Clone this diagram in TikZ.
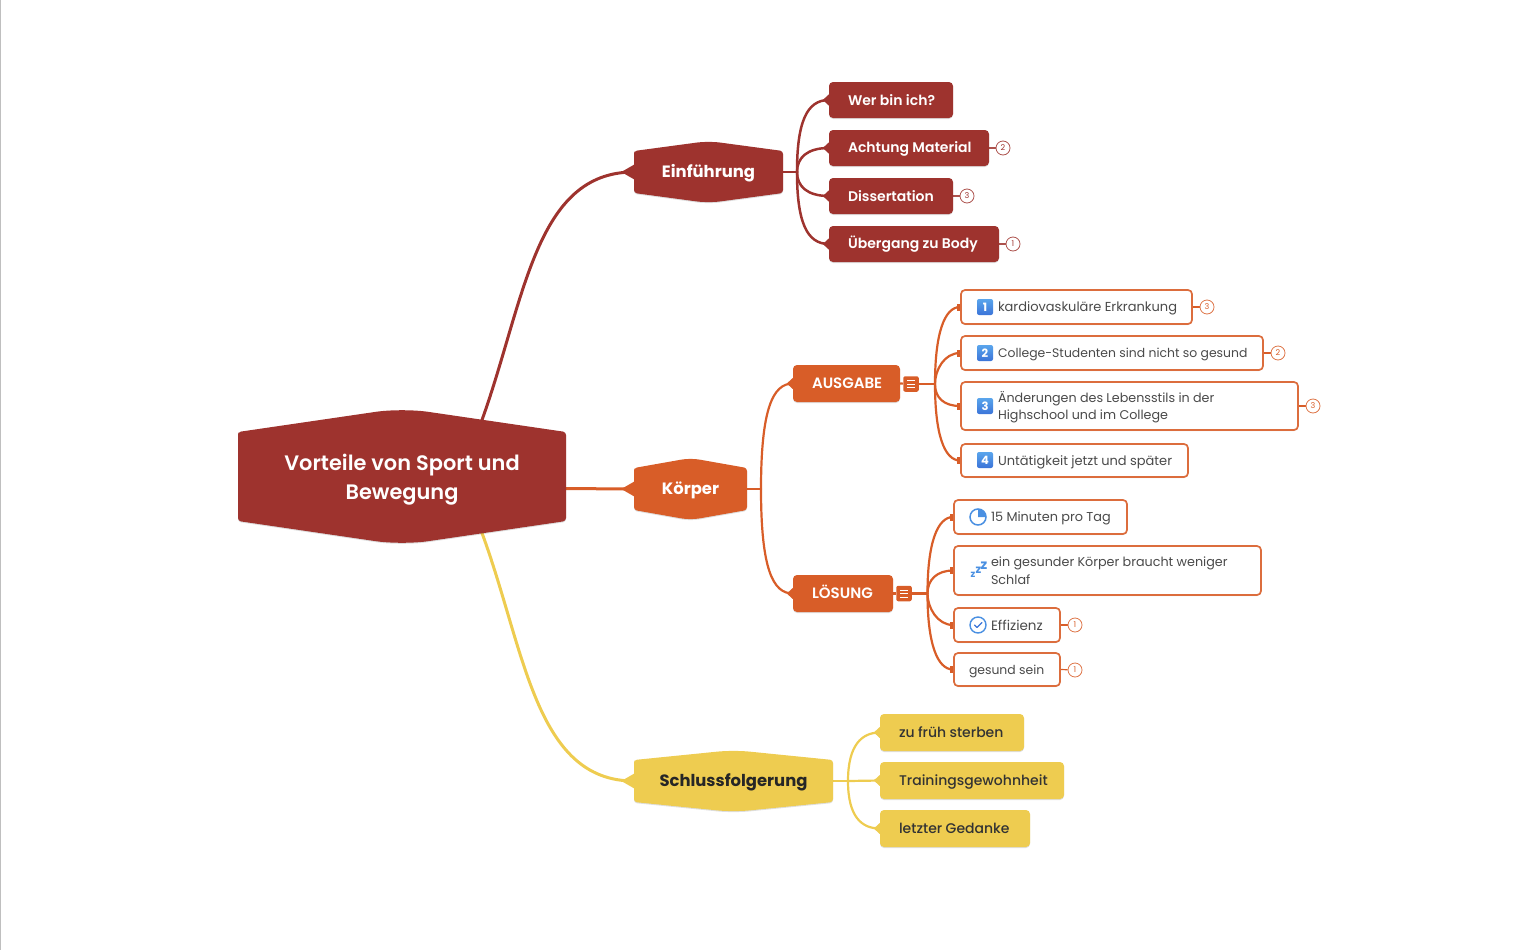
\documentclass[tikz,border=0pt]{standalone}
\usepackage{fontspec}
\setmainfont{Poppins}
\newfontfamily\medfont{Poppins Medium}
\newfontfamily\semifont{Poppins SemiBold}
\usetikzlibrary{backgrounds,shadows,calc}
\definecolor{mred}{HTML}{9E332E}
\definecolor{morange}{HTML}{D85D28}
\definecolor{myellow}{HTML}{EECC50}
\definecolor{mtext}{HTML}{4A4A4A}
\definecolor{micon}{HTML}{4A90E2}
\definecolor{micona}{HTML}{5AA5EC}
\definecolor{miconb}{HTML}{3B74D8}
\tikzset{
  softshadow/.style={drop shadow={shadow xshift=0pt,shadow yshift=-1pt,opacity=.13,fill=black}},
  conn/.style={line width=3pt,line cap=round},
  subconn/.style={line width=2.2pt,line cap=round},
  cardbox/.style={rectangle,rounded corners=4pt,inner sep=0pt,softshadow},
  redcard/.style={cardbox,fill=mred,text=white},
  orangecard/.style={cardbox,fill=morange,text=white},
  yellowcard/.style={cardbox,fill=myellow,text=black!80},
  whitecard/.style={cardbox,fill=white,draw=morange!90,line width=1.7pt,text=mtext},
  badge/.style={circle,draw=#1!85,fill=white,line width=.8pt,text=#1,inner sep=0pt,minimum size=14pt,font=\fontsize{8}{8}\selectfont},
  numicon/.style={rectangle,rounded corners=2pt,minimum size=16pt,inner sep=0pt,top color=micona,bottom color=miconb,text=white,font=\fontsize{11.5}{11.5}\bfseries\selectfont},
  foldicon/.style={rectangle,rounded corners=2pt,minimum size=15.5pt,inner sep=0pt,fill=morange},
}
\newcommand{\mmstrut}{\rule[-2.8pt]{0pt}{16pt}}
% name, style, x0, y0, x1, y1, left pad, font size, text
\newcommand{\mmcard}[9]{%
  \pgfmathsetmacro{\mw}{#5-#3}\pgfmathsetmacro{\mh}{#6-#4}%
  \pgfmathsetmacro{\mt}{#5-#3-#7}%
  \node[#2,minimum width=\mw pt,minimum height=\mh pt,text width=\mw pt,align=left] (#1) at ({(#3+#5)/2},{(#4+#6)/2})
   {\hspace*{#7pt}\parbox[c]{\mt pt}{\raggedright\fontsize{#8}{16}\selectfont\mmstrut #9\mmstrut}};%
}
% tip: base on the west side of a node, apex to the left
\newcommand{\mmtip}[2]{\fill[#2] (#1.west) ++(0.5,-6) -- ++(-6.5,6) -- ++(6.5,6) -- cycle;}
\newcommand{\mmtipb}[2]{\fill[#2] (#1.west) ++(0.5,-7.5) -- ++(-13,7.5) -- ++(13,7.5) -- cycle;}
\newcommand{\mmtab}[2]{\fill[#2] (#1.west) ++(-3,-3.5) rectangle ++(3.5,7);}
% name,colour,x0,x1,apex top,corner top,corner bottom,apex bottom,text
\newcommand{\mmhex}[9]{%
  \pgfmathsetmacro{\mr}{(#4-#3)*0.08}%
  \fill[#2,softshadow] (#3,{#6+3}) [rounded corners=3pt] -- (#3,#6) [rounded corners=\mr pt] -- ({(#3+#4)/2},#5) [rounded corners=3pt] -- (#4,#6) -- (#4,#7) [rounded corners=\mr pt] -- ({(#3+#4)/2},#8) [rounded corners=3pt] -- (#3,#7) -- cycle;%
  \node[inner sep=0pt,minimum width=#4 pt-#3 pt,minimum height=#7 pt-#6 pt,align=center] (#1) at ({(#3+#4)/2},{(#6+#7)/2}) {#9};%
}
\newcommand{\foldlines}[1]{\draw[white,line width=.8pt] ($(#1)+(-4,-3.5)$) -- +(8,0) ($(#1)+(-4,0)$) -- +(8,0) ($(#1)+(-4,3.5)$) -- +(8,0);}
\newcommand{\rootfont}{\color{white}\semifont\fontsize{20.9}{27}\selectfont\rule[-4.9pt]{0pt}{27pt}}
\newcommand{\hexfont}{\bfseries\fontsize{16.4}{20}\selectfont\rule[-4pt]{0pt}{20pt}}
\begin{document}
\begin{tikzpicture}[x=1pt,y=-1pt]
\useasboundingbox (0,0) rectangle (1536,950);
\draw[black!25,line width=1pt] (0.5,0) -- (0.5,950);

% hexagons
\mmhex{root}{mred}{238}{566}{408}{432}{521}{545}{\rootfont Vorteile von Sport und\\\rootfont Bewegung}
\mmhex{ein}{mred}{634}{783}{141}{151}{193}{203}{\color{white}\hexfont Einführung}
\mmhex{koe}{morange}{634}{747}{458}{468}{510}{520}{\color{white}\hexfont Körper}
\mmhex{sch}{myellow}{634}{833}{750}{760}{802}{812}{\color{black!85}\hexfont Schlussfolgerung}

% Einführung children
\mmcard{wer}{redcard}{829}{82}{953}{118}{19}{14}{\semifont Wer bin ich?}
\mmcard{ach}{redcard}{829}{130}{989}{166}{19}{14}{\semifont Achtung Material}
\mmcard{dis}{redcard}{829}{178}{953}{214}{19}{14}{\semifont Dissertation}
\mmcard{ueb}{redcard}{829}{226}{999}{262}{19}{14}{\semifont Übergang zu Body}
\node[badge=mred] (bach) at (1003,148) {2};
\node[badge=mred] (bdis) at (967,196) {3};
\node[badge=mred] (bueb) at (1013,244) {1};

% Körper sub topics
\mmcard{aus}{orangecard}{793}{365}{900}{402}{19}{15}{\semifont AUSGABE}
\mmcard{loe}{orangecard}{793}{575}{893}{612}{19}{15}{\semifont LÖSUNG}
\node[foldicon] (faus) at (911,384) {};
\node[foldicon] (floe) at (904,593.5) {};
\foldlines{faus}
\foldlines{floe}

% AUSGABE children
\mmcard{ka}{whitecard}{961}{290}{1192}{324}{37}{13}{kardiovaskuläre Erkrankung}
\mmcard{co}{whitecard}{961}{336}{1263}{370}{37}{12.4}{College-Studenten sind nicht so gesund}
\mmcard{ae}{whitecard}{961}{382}{1298}{430}{37}{12.7}{Änderungen des Lebensstils in der\\Highschool und im College}
\mmcard{un}{whitecard}{961}{444}{1188}{477}{37}{13}{Untätigkeit jetzt und später}
\node[numicon] (n1) at (985,307) {1};
\node[numicon] (n2) at (985,353) {2};
\node[numicon] (n3) at (985,406) {3};
\node[numicon] (n4) at (985,460) {4};
\node[badge=morange] (bka) at (1207,307) {3};
\node[badge=morange] (bco) at (1278,353) {2};
\node[badge=morange] (bae) at (1313,406) {3};

% LÖSUNG children
\mmcard{mi}{whitecard}{954}{500}{1127}{534}{37}{12.85}{15 Minuten pro Tag}
\mmcard{go}{whitecard}{954}{546}{1261}{595}{37}{12.74}{ein gesunder Körper braucht weniger\\Schlaf}
\mmcard{ef}{whitecard}{954}{608}{1060}{642}{37}{13.5}{Effizienz}
\mmcard{ge}{whitecard}{954}{653}{1060}{686}{15}{12.4}{gesund sein}
\node[badge=morange] (bef) at (1075,625) {1};
\node[badge=morange] (bge) at (1075,670) {1};

% icons
\draw[micon,line width=1.5pt] (978,517) circle (8);
\fill[micon] (978,517) -- (978,509) arc[start angle=-90,end angle=0,radius=8] -- cycle;
\node[text=micon,font=\fontsize{9.5}{9}\bfseries\selectfont,inner sep=0pt] (z1) at (973,574.5) {z};
\node[text=micon,font=\fontsize{11.5}{11}\bfseries\selectfont,inner sep=0pt] (z2) at (978.5,570) {z};
\node[text=micon,font=\fontsize{13.5}{13}\bfseries\selectfont,inner sep=0pt] (z3) at (984,565.5) {z};
\draw[micon,line width=1.4pt] (978,625) circle (8);
\draw[miconb,line width=1.3pt,line cap=round,line join=round] (974.5,625) -- (977,627.5) -- (982,622.5);

% Schlussfolgerung children
\mmcard{zu}{yellowcard}{880}{714}{1024}{751}{19}{14}{\medfont zu früh sterben}
\mmcard{tr}{yellowcard}{880}{762}{1064}{799}{19}{14}{\medfont Trainingsgewohnheit}
\mmcard{le}{yellowcard}{880}{810}{1030}{847}{19}{14}{\medfont letzter Gedanke}

\begin{scope}[on background layer]
  \coordinate (rtop) at (482,420);
  \coordinate (rbot) at (482,533);
  \coordinate (rmid) at (560,488.5);
  \coordinate (tein) at (797,172);
  \coordinate (tkoe) at (761,489);
  \coordinate (taus) at (935,384);
  \coordinate (tloe) at (927.5,593.5);
  \coordinate (tsch) at (848,781);
  % main branches
  \draw[conn,mred] (rtop) .. controls (525,300) and (535,172) .. (ein.west);
  \draw[conn,morange] (rmid) -- (koe.west);
  \draw[conn,myellow] (rbot) .. controls (525,650) and (535,781) .. (sch.west);
  \mmtipb{ein}{mred}
  \mmtipb{koe}{morange}
  \mmtipb{sch}{myellow}
  % Einführung
  \draw[subconn,mred,line width=2.5pt] (ein.east) -- (tein);
  \foreach \c/\v in {wer/-50,ach/-14,dis/14,ueb/50}
    {\draw[subconn,mred,line width=2.5pt] (tein) .. controls +(0,\v) and +(-22,0) .. (\c.west);
     \mmtip{\c}{mred}}
  \draw[mred!85,line width=1.2pt] (ach.east) -- (bach);
  \draw[mred!85,line width=1.2pt] (dis.east) -- (bdis);
  \draw[mred!85,line width=1.2pt] (ueb.east) -- (bueb);
  % Körper
  \draw[subconn,morange] (koe.east) -- (tkoe);
  \draw[subconn,morange] (tkoe) .. controls +(0,-80) and +(-20,0) .. (aus.west);
  \draw[subconn,morange] (tkoe) .. controls +(0,80) and +(-20,0) .. (loe.west);
  \mmtip{aus}{morange}
  \mmtip{loe}{morange}
  % AUSGABE
  \draw[morange,line width=2.2pt] (aus.east) -- (faus);
  \draw[morange,line width=2.2pt] (faus) -- (taus);
  \foreach \c/\v in {ka/-50,co/-14,ae/14,un/50}
    {\draw[subconn,morange] (taus) .. controls +(0,\v) and +(-16,0) .. (\c.west);
     \mmtab{\c}{morange}}
  \draw[morange,line width=1.2pt] (ka.east) -- (bka);
  \draw[morange,line width=1.2pt] (co.east) -- (bco);
  \draw[morange,line width=1.2pt] (ae.east) -- (bae);
  % LÖSUNG
  \draw[morange,line width=2.2pt] (loe.east) -- (floe);
  \draw[morange,line width=2.2pt] (floe) -- (tloe);
  \foreach \c/\v in {mi/-50,go/-14,ef/14,ge/50}
    {\draw[subconn,morange] (tloe) .. controls +(0,\v) and +(-16,0) .. (\c.west);
     \mmtab{\c}{morange}}
  \draw[morange,line width=1.2pt] (ef.east) -- (bef);
  \draw[morange,line width=1.2pt] (ge.east) -- (bge);
  % Schluss
  \draw[subconn,myellow] (sch.east) -- (tsch);
  \draw[subconn,myellow] (tsch) .. controls +(0,-36) and +(-18,0) .. (zu.west);
  \draw[subconn,myellow] (tsch) -- (tr.west);
  \draw[subconn,myellow] (tsch) .. controls +(0,36) and +(-18,0) .. (le.west);
  \foreach \c in {zu,tr,le} {\mmtip{\c}{myellow}}
\end{scope}
\end{tikzpicture}
\end{document}
